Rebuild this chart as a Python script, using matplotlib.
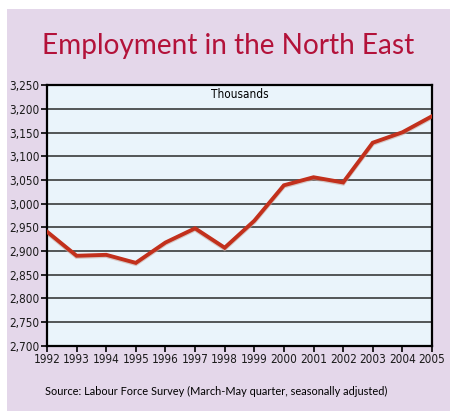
import matplotlib
matplotlib.use("Agg")
import matplotlib.pyplot as plt
from matplotlib.patches import Rectangle
from matplotlib.ticker import FuncFormatter

years = list(range(1992, 2006))
employment = [2941, 2890, 2892, 2875, 2918, 2948, 2907,
              2964, 3039, 3056, 3045, 3129, 3151, 3185]
y_ticks = list(range(2700, 3251, 50))

title = "Employment in the North East"
units = "Thousands"
source = "Source: Labour Force Survey (March-May quarter, seasonally adjusted)"

fig = plt.figure(figsize=(4.54, 4.11), dpi=100)
fig.patch.set_facecolor("white")

# lavender panel behind everything
fig.patches.append(Rectangle((7 / 454, 0), 443 / 454, 402 / 411,
                             transform=fig.transFigure,
                             facecolor="#e4d7ea", edgecolor="none",
                             zorder=-10))

fig.text(0.502, 0.888, title, ha="center", va="center",
         fontsize=20.2, color="#b3123a", family=["Lato", "DejaVu Sans"])

ax = fig.add_axes([0.1035, 0.159, 0.848, 0.633])
ax.set_facecolor("#eaf4fb")

for v in y_ticks[1:-1]:
    ax.axhline(v, color="#2a2a2a", lw=1.1, zorder=1)

# soft shadow under the line
ax.plot(years, [e - 2 for e in employment], color="#c9a9a0", lw=3.2,
        alpha=0.6, zorder=2, solid_joinstyle="miter")
ax.plot(years, employment, color="#c2301c", lw=2.8, zorder=3,
        solid_joinstyle="miter")

ax.set_xlim(1992, 2005)
ax.set_ylim(2700, 3250)
ax.set_xticks(years)
ax.set_yticks(y_ticks)
ax.yaxis.set_major_formatter(FuncFormatter(lambda v, p: f"{int(v):,}"))

for s in ax.spines.values():
    s.set_linewidth(1.6)
    s.set_color("black")

ax.tick_params(axis="both", length=4, width=1.2, direction="out",
               pad=1.5, labelsize=8.5, labelcolor="#1a1a1a")
for lab in ax.get_xticklabels() + ax.get_yticklabels():
    lab.set_family("DejaVu Sans")
    lab.set_stretch("condensed")

ax.text(0.5, 0.965, units, transform=ax.transAxes, ha="center", va="center",
        fontsize=8.5, family="DejaVu Sans", stretch="condensed")

fig.text(0.477, 0.047, source, ha="center", va="center",
         fontsize=7.95, family=["Lato", "DejaVu Sans"])

fig.savefig("out.png", dpi=100)
